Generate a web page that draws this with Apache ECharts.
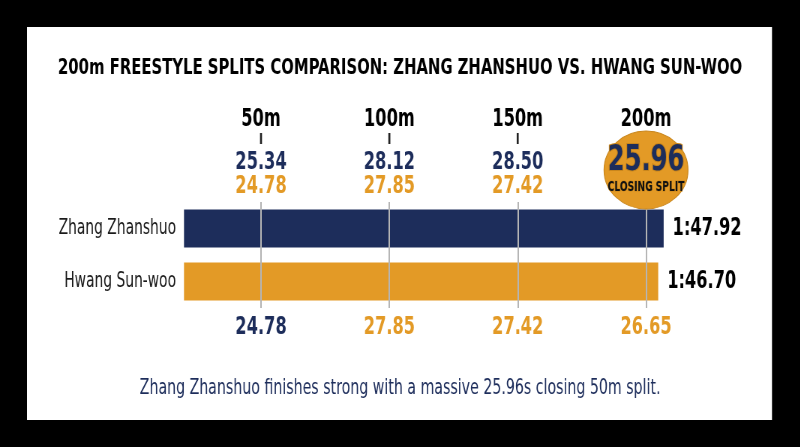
<!DOCTYPE html>
<html><head><meta charset="utf-8">
<script src="https://cdn.jsdelivr.net/npm/echarts@6/dist/echarts.min.js"></script>
<style>
html,body{margin:0;padding:0;background:#000;overflow:hidden}
#wrap{width:800px;height:447px;overflow:hidden}
#c{width:1067px;height:447px;transform:scaleX(0.75);transform-origin:0 0}
</style>
</head><body><div id="wrap"><div id="c"></div></div>
<script>
const categories = ['Zhang Zhanshuo', 'Hwang Sun-woo'];
const totalSeconds = [107.92, 106.70];
const totalLabels = ['1:47.92', '1:46.70'];
const distances = [50, 100, 150, 200];
const distanceLabels = ['50m', '100m', '150m', '200m'];
const zhangSplits = [25.34, 28.12, 28.50, 25.96];
const hwangSplits = [24.78, 27.85, 27.42, 26.65];
const bottomRow = [24.78, 27.85, 27.42, 26.65];
const titleText = '200m FREESTYLE SPLITS COMPARISON: ZHANG ZHANSHUO VS. HWANG SUN-WOO';
const footerText = 'Zhang Zhanshuo finishes strong with a massive 25.96s closing 50m split.';
const badgeCaption = 'CLOSING SPLIT';

const NAVY = '#1d2d5b', GOLD = '#e39a26', DARKGOLD = '#c9861c';
const FONT = "'DejaVu Sans Condensed','DejaVu Sans',sans-serif";
const S = 0.75;                 // horizontal condensing of the whole canvas
const X = v => v / S;           // convert screen x to canvas x
const D_MIN = 20, D_MAX = 207;
const G = {left: X(184), width: X(480)};
const topLevels = {dist: 90, tick: 71.5, navy: 47, gold: 23, badge: 40};
const bottomLevel = 12;

const chart = echarts.init(document.getElementById('c'));
const labelBase = {show: true, position: 'inside', fontFamily: FONT, fontWeight: 'bold'};

chart.setOption({
  backgroundColor: '#000',
  animation: false,
  graphic: [{type: 'rect', z: -10, shape: {x: X(27), y: 27, width: X(745), height: 393}, style: {fill: '#fff'}}],
  title: [
    {text: titleText, left: 'center', top: 52, textStyle: {fontFamily: FONT, fontWeight: 'bold', fontSize: 22, color: '#000'}},
    {text: footerText, left: 'center', top: 373, textStyle: {fontFamily: FONT, fontWeight: 'normal', fontSize: 21, color: NAVY}}
  ],
  grid: [
    {left: G.left, width: G.width, top: 202, height: 106},
    {left: G.left, width: G.width, top: 95, height: 115},
    {left: G.left, width: G.width, top: 310, height: 30}
  ],
  xAxis: [
    {type: 'value', gridIndex: 0, min: 0, max: 108, show: false},
    {type: 'value', gridIndex: 0, min: D_MIN, max: D_MAX, show: false},
    {type: 'value', gridIndex: 1, min: D_MIN, max: D_MAX, show: false},
    {type: 'value', gridIndex: 2, min: D_MIN, max: D_MAX, show: false}
  ],
  yAxis: [
    {type: 'category', gridIndex: 0, data: categories, inverse: true,
     axisLine: {show: false}, axisTick: {show: false},
     axisLabel: {margin: X(8), fontFamily: FONT, fontSize: 20.5, color: '#1a1a1a'}},
    {type: 'value', gridIndex: 1, min: 0, max: 115, show: false},
    {type: 'value', gridIndex: 2, min: 0, max: 30, show: false}
  ],
  series: [
    {type: 'bar', xAxisIndex: 0, yAxisIndex: 0, barWidth: 38,
     data: totalSeconds.map((v, i) => ({value: v, itemStyle: {color: i === 0 ? NAVY : GOLD}})),
     label: {show: true, position: 'right', distance: X(9), formatter: p => totalLabels[p.dataIndex],
             fontFamily: FONT, fontWeight: 'bold', fontSize: 24, color: '#000'}},
    {type: 'line', xAxisIndex: 1, yAxisIndex: 0, data: [], z: 5,
     markLine: {silent: true, symbol: 'none', label: {show: false},
                lineStyle: {color: '#b5b5b5', width: 2, type: 'solid'},
                data: distances.map(d => ({xAxis: d}))}},
    {type: 'scatter', xAxisIndex: 2, yAxisIndex: 1, symbolSize: 0, itemStyle: {opacity: 1},
     data: distances.map(d => [d, topLevels.dist]),
     label: Object.assign({}, labelBase, {formatter: p => distanceLabels[p.dataIndex], fontSize: 24, color: '#000'})},
    {type: 'scatter', xAxisIndex: 2, yAxisIndex: 1, symbol: 'rect', symbolSize: [X(2), 11],
     itemStyle: {color: '#222', opacity: 1},
     data: distances.slice(0, 3).map(d => [d, topLevels.tick])},
    {type: 'scatter', xAxisIndex: 2, yAxisIndex: 1, symbolSize: 0, itemStyle: {opacity: 1},
     data: distances.slice(0, 3).map(d => [d, topLevels.navy]),
     label: Object.assign({}, labelBase, {formatter: p => zhangSplits[p.dataIndex].toFixed(2), fontSize: 24, color: NAVY})},
    {type: 'scatter', xAxisIndex: 2, yAxisIndex: 1, symbolSize: 0, itemStyle: {opacity: 1},
     data: distances.slice(0, 3).map(d => [d, topLevels.gold]),
     label: Object.assign({}, labelBase, {formatter: p => hwangSplits[p.dataIndex].toFixed(2), fontSize: 24, color: GOLD})},
    {type: 'scatter', xAxisIndex: 2, yAxisIndex: 1, symbol: 'circle', symbolSize: [X(84), 78], z: 6,
     itemStyle: {color: GOLD, borderColor: DARKGOLD, borderWidth: 1, opacity: 1},
     data: [[distances[3], topLevels.badge]],
     label: {show: true, position: 'inside',
             formatter: () => '{v|' + zhangSplits[3].toFixed(2) + '}\n{c|' + badgeCaption + '}',
             rich: {
               v: {fontFamily: FONT, fontWeight: 'bold', fontSize: 36, color: NAVY, lineHeight: 34,
                   textBorderColor: DARKGOLD, textBorderWidth: 2},
               c: {fontFamily: FONT, fontWeight: 'bold', fontSize: 13.5, color: '#111', lineHeight: 18,
                   textBorderColor: DARKGOLD, textBorderWidth: 1}
             }}},
    {type: 'scatter', xAxisIndex: 3, yAxisIndex: 2, symbolSize: 0, itemStyle: {opacity: 1},
     data: distances.map((d, i) => ({value: [d, bottomLevel], label: {color: i === 0 ? NAVY : GOLD}})),
     label: Object.assign({}, labelBase, {formatter: p => bottomRow[p.dataIndex].toFixed(2), fontSize: 24})}
  ]
});
</script></body></html>
